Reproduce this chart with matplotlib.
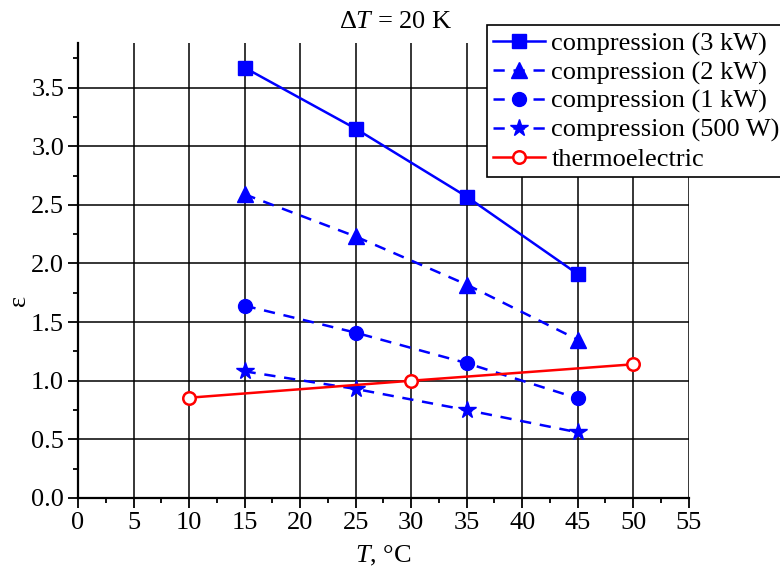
import matplotlib
matplotlib.use("Agg")
import matplotlib.pyplot as plt
from matplotlib.ticker import MultipleLocator, FormatStrFormatter

plt.rcParams['font.family'] = ['Liberation Serif', 'DejaVu Serif']
plt.rcParams['mathtext.fontset'] = 'custom'
plt.rcParams['mathtext.rm'] = 'Liberation Serif'
plt.rcParams['mathtext.it'] = 'Liberation Serif:italic'

T_comp = [15, 25, 35, 45]
eps_3kW = [3.67, 3.15, 2.57, 1.91]
eps_2kW = [2.59, 2.23, 1.82, 1.35]
eps_1kW = [1.64, 1.41, 1.15, 0.85]
eps_500W = [1.08, 0.93, 0.75, 0.56]
T_te = [10, 30, 50]
eps_te = [0.855, 1.0, 1.14]

labels = ['compression (3 kW)', 'compression (2 kW)', 'compression (1 kW)',
          'compression (500 W)', 'thermoelectric']

fig = plt.figure(figsize=(7.8, 5.72), dpi=100)
ax = fig.add_axes([0.1, 0.1294, 0.783, 0.7954])

blue = '#0000ff'
red = '#ff0000'
lw = 1.8
dsh = (4.5, 3.5)
ax.plot(T_comp, eps_3kW, '-', color=blue, lw=lw, marker='s', ms=9.5, label=labels[0], zorder=3)
ax.plot(T_comp, eps_2kW, '--', color=blue, lw=lw, marker='^', ms=11, dashes=dsh, label=labels[1], zorder=3)
ax.plot(T_comp, eps_1kW, '--', color=blue, lw=lw, marker='o', ms=10, dashes=dsh, label=labels[2], zorder=3)
ax.plot(T_comp, eps_500W, '--', color=blue, lw=lw, marker='*', ms=13, dashes=dsh, label=labels[3], zorder=3)
ax.plot(T_te, eps_te, '-', color=red, lw=lw, marker='o', ms=9, mfc='white', mec=red, mew=1.8,
        label=labels[4], zorder=3)

ax.set_xlim(0, 55)
ax.set_ylim(0, 3.88)
ax.xaxis.set_major_locator(MultipleLocator(5))
ax.xaxis.set_minor_locator(MultipleLocator(2.5))
ax.yaxis.set_major_locator(MultipleLocator(0.5))
ax.yaxis.set_minor_locator(MultipleLocator(0.25))
ax.yaxis.set_major_formatter(FormatStrFormatter('%.1f'))

ax.grid(True, which='major', color='black', lw=1.1)
ax.set_axisbelow(True)
for s in ['top', 'right']:
    ax.spines[s].set_visible(False)
for s in ['left', 'bottom']:
    ax.spines[s].set_linewidth(1.6)
ax.tick_params(which='major', direction='out', length=7, width=1.3, labelsize=19, pad=3)
ax.tick_params(which='minor', direction='out', length=3.5, width=1.3)

ax.set_xlabel(r'$\mathit{T}$, °C', fontsize=19, labelpad=7)
fig.text(0.024, 0.475, 'ε', fontsize=19, rotation=90, ha='center', va='center')
fig.text(0.507, 0.962, r'$\Delta\mathit{T}$ = 20 K', fontsize=19, ha='center', va='center')

leg = fig.legend(loc='upper right', bbox_to_anchor=(1.008, 0.956), fontsize=19,
                 frameon=True, fancybox=False, edgecolor='black', framealpha=1,
                 handlelength=1.95, handletextpad=0.25, borderpad=0.25, labelspacing=0.19,
                 borderaxespad=0.0)
leg.get_frame().set_linewidth(1.2)

fig.savefig('out.png', dpi=100)
